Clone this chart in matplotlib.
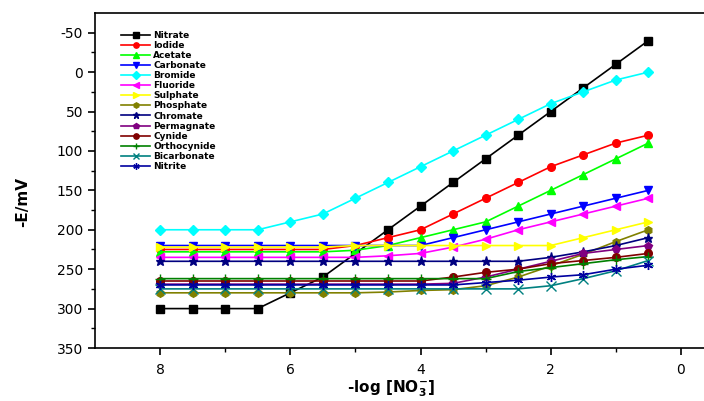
import numpy as np
import matplotlib
matplotlib.use('Agg')
import matplotlib.pyplot as plt

# -log[NO3-] values (same for every anion)
log_conc = [8, 7.5, 7, 6.5, 6, 5.5, 5, 4.5, 4, 3.5, 3, 2.5, 2, 1.5, 1, 0.5]

nitrate = [300, 300, 300, 300, 280, 260, 230, 200, 170, 140, 110, 80, 50, 20, -10, -40]
iodide = [225, 225, 225, 225, 225, 225, 220, 210, 200, 180, 160, 140, 120, 105, 90, 80]
acetate = [228, 228, 228, 228, 228, 228, 226, 220, 210, 200, 190, 170, 150, 130, 110, 90]
carbonate = [220, 220, 220, 220, 220, 220, 220, 220, 220, 210, 200, 190, 180, 170, 160, 150]
bromide = [200, 200, 200, 200, 190, 180, 160, 140, 120, 100, 80, 60, 40, 25, 10, 0]
fluoride = [235, 235, 235, 235, 235, 235, 235, 233, 230, 222, 212, 200, 190, 180, 170, 160]
sulphate = [222, 222, 222, 222, 222, 222, 220, 220, 220, 220, 220, 220, 220, 210, 200, 190]
phosphate = [280, 280, 280, 280, 280, 280, 280, 279, 277, 276, 271, 260, 246, 231, 215, 200]
chromate = [240, 240, 240, 240, 240, 240, 240, 240, 240, 240, 240, 240, 235, 228, 220, 210]
permagnate = [269, 269, 269, 269, 269, 269, 269, 269, 269, 268, 260, 250, 240, 230, 225, 220]
cynide = [265, 265, 265, 265, 265, 265, 265, 265, 265, 260, 254, 250, 243, 239, 235, 230]
orthocynide = [262, 262, 262, 262, 262, 262, 262, 262, 262, 262, 262, 253, 248, 243, 238, 234]
bicarbonate = [275, 275, 275, 275, 275, 275, 275, 275, 275, 275, 275, 275, 271, 262, 252, 239]
nitrite = [270, 270, 270, 270, 270, 270, 270, 270, 270, 270, 267, 264, 260, 257, 250, 245]

series = [
    ('Nitrate', nitrate, 'black', 's'),
    ('Iodide', iodide, 'red', 'o'),
    ('Acetate', acetate, '#00ff00', '^'),
    ('Carbonate', carbonate, 'blue', 'v'),
    ('Bromide', bromide, 'cyan', 'D'),
    ('Fluoride', fluoride, 'magenta', '<'),
    ('Sulphate', sulphate, 'yellow', '>'),
    ('Phosphate', phosphate, '#808000', 'h'),
    ('Chromate', chromate, '#000080', '*'),
    ('Permagnate', permagnate, '#800080', 'p'),
    ('Cynide', cynide, '#800000', 'o'),
    ('Orthocynide', orthocynide, '#008000', '+'),
    ('Bicarbonate', bicarbonate, '#008080', 'x'),
    ('Nitrite', nitrite, '#0000a0', (6, 2, 0)),
]

plt.rcParams['font.family'] = 'DejaVu Sans'
plt.rcParams['axes.unicode_minus'] = False

fig = plt.figure(figsize=(7.04, 4.01), dpi=100)
ax = fig.add_axes([95 / 704, 53 / 401, 625 / 704, 335 / 401])

for name, vals, color, marker in series:
    ms = 6.5 if marker in ('+', 'x', '*', (6, 2, 0)) else 5.5
    ax.plot(log_conc, vals, color=color, marker=marker, markersize=ms,
            linewidth=1.2, markeredgewidth=1.0, label=name)

ax.set_xlim(9, -0.6)
ax.set_ylim(350, -75)
ax.set_xticks([8, 6, 4, 2, 0])
ax.set_xticks(np.arange(0, 9, 1), minor=True)
ax.set_yticks(np.arange(-50, 351, 50))
ax.set_yticks(np.arange(-50, 351, 25), minor=True)
ax.tick_params(axis='both', which='major', direction='out', length=5, width=1.2, labelsize=10)
ax.tick_params(axis='both', which='minor', direction='out', length=3, width=1.0)
ax.tick_params(axis='x', pad=6)
for side in ('left', 'bottom', 'top'):
    ax.spines[side].set_linewidth(1.2)
ax.spines['right'].set_visible(False)

ax.set_ylabel('-E/mV', fontsize=11, fontweight='bold')
ax.yaxis.set_label_coords(-0.104, 0.436)
ax.set_xlabel(r'-log [NO$_\mathbf{3}^{\mathbf{-}}$]', fontsize=11, fontweight='bold')
ax.xaxis.set_label_coords((391 - 95) / 625, -0.09)

leg = ax.legend(loc='upper left', bbox_to_anchor=(0.035, 0.96), frameon=False,
                prop={'size': 6.5, 'weight': 'bold'}, labelspacing=0.12,
                handlelength=3.2, handletextpad=0.35, borderpad=0, markerscale=0.7)

fig.savefig('out.png', dpi=100)
